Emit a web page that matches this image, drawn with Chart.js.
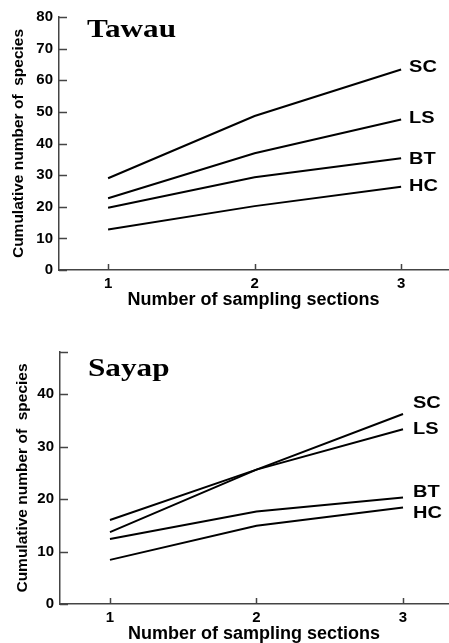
<!DOCTYPE html>
<html>
<head>
<meta charset="utf-8">
<script src="https://cdn.jsdelivr.net/npm/chart.js@4.4.1/dist/chart.umd.min.js"></script>
<style>
  html, body { margin: 0; padding: 0; background: #fff; }
  #wrap { position: relative; width: 449px; height: 643px; }
  canvas { position: absolute; left: 0; }
  #tawau { top: 0; }
  #sayap { top: 318px; }
</style>
</head>
<body>
<div id="wrap">
  <canvas id="tawau" width="449" height="312"></canvas>
  <canvas id="sayap" width="449" height="325"></canvas>
</div>
<script>
// x categories
var sections = [1, 2, 3];
var seriesNames = ['SC', 'LS', 'BT', 'HC'];

// Tawau
var tawauSC = [29.0, 48.7, 63.4];
var tawauLS = [22.7, 36.9, 47.6];
var tawauBT = [19.7, 29.3, 35.3];
var tawauHC = [12.8, 20.2, 26.3];
var tawauTicks = [0, 10, 20, 30, 40, 50, 60, 70, 80];

// Sayap
var sayapSC = [13.7, 25.6, 36.2];
var sayapLS = [16.0, 25.6, 33.3];
var sayapBT = [12.4, 17.6, 20.3];
var sayapHC = [8.4, 14.9, 18.4];
var sayapTicks = [0, 10, 20, 30, 40];

var sans = "'Liberation Sans', Arial, sans-serif";
var axisColor = '#444';

// inward tick marks, panel title and line labels
var panelPlugin = {
  id: 'panel',
  afterDraw: function (chart, args, opts) {
    var ctx = chart.ctx;
    var area = chart.chartArea;
    var x = chart.scales.x, y = chart.scales.y;
    ctx.save();
    ctx.strokeStyle = axisColor;
    ctx.lineWidth = 1.5;
    ctx.beginPath();
    y.ticks.forEach(function (t) {
      var py = Math.round(y.getPixelForValue(t.value)) + 0.5;
      ctx.moveTo(area.left, py);
      ctx.lineTo(area.left + 8, py);
    });
    ctx.moveTo(area.left, area.top + 0.5);
    ctx.lineTo(area.left + 8, area.top + 0.5);
    x.ticks.forEach(function (t) {
      var px = Math.round(x.getPixelForValue(t.value)) + 0.5;
      ctx.moveTo(px, area.bottom);
      ctx.lineTo(px, area.bottom - 6);
    });
    ctx.stroke();

    // panel title, drawn a little stretched like the scan
    ctx.fillStyle = '#000';
    ctx.textBaseline = 'alphabetic';
    ctx.font = "bold 26px 'Liberation Serif', 'Times New Roman', serif";
    ctx.save();
    ctx.translate(area.left + 28, area.top + opts.titleY);
    ctx.scale(1.2, 1);
    ctx.fillText(opts.title, 0, 0);
    ctx.restore();

    // labels at the end of each line
    ctx.font = 'bold 16px ' + sans;
    ctx.textBaseline = 'middle';
    chart.data.datasets.forEach(function (ds, i) {
      var pt = chart.getDatasetMeta(i).data[ds.data.length - 1];
      ctx.save();
      ctx.translate(pt.x + opts.dx, pt.y + opts.dy[i]);
      ctx.scale(1.25, 1);
      ctx.fillText(ds.label, 0, 0);
      ctx.restore();
    });
    ctx.restore();
  }
};

function makeChart(id, series, yMax, yTicks, xMin, xMax, pad, panel) {
  var ctx = document.getElementById(id).getContext('2d');
  return new Chart(ctx, {
    type: 'line',
    data: {
      datasets: series.map(function (vals, i) {
        return {
          label: seriesNames[i],
          data: sections.map(function (s, j) { return { x: s, y: vals[j] }; }),
          borderColor: '#000',
          borderWidth: 2,
          pointRadius: 0,
          tension: 0,
          fill: false
        };
      })
    },
    options: {
      responsive: false,
      animation: false,
      layout: { padding: { top: pad.top, right: 1, left: 0, bottom: 0 } },
      plugins: {
        legend: { display: false },
        tooltip: { enabled: false },
        panel: panel
      },
      scales: {
        x: {
          type: 'linear',
          min: xMin,
          max: xMax,
          afterBuildTicks: function (s) { s.ticks = sections.map(function (v) { return { value: v }; }); },
          afterFit: function (s) { s.height = pad.xHeight; },
          grid: { display: false, drawTicks: false },
          border: { color: axisColor, width: 1.5 },
          ticks: { color: '#000', padding: 5, font: { family: sans, size: 15, weight: 'bold' } },
          title: {
            display: true,
            text: 'Number of sampling sections',
            color: '#000',
            font: { family: sans, size: 18, weight: 'bold', lineHeight: 1 },
            padding: { top: 0, bottom: pad.xTitle }
          }
        },
        y: {
          min: 0,
          max: yMax,
          afterBuildTicks: function (s) { s.ticks = yTicks.map(function (v) { return { value: v }; }); },
          afterFit: function (s) { s.width = pad.yWidth; },
          grid: { display: false, drawTicks: false },
          border: { color: axisColor, width: 1.5 },
          ticks: { color: '#000', padding: 6, font: { family: sans, size: 15, weight: 'bold' } },
          title: {
            display: true,
            text: 'Cumulative number of  species',
            color: '#000',
            font: { family: sans, size: 15.5, weight: 'bold', lineHeight: 1.2 },
            padding: { top: pad.yTitle, bottom: 0 }
          }
        }
      }
    },
    plugins: [panelPlugin]
  });
}

makeChart('tawau', [tawauSC, tawauLS, tawauBT, tawauHC], 80, tawauTicks, 0.665, 3.32,
  { top: 17, xHeight: 42, xTitle: 3, yWidth: 59, yTitle: 9 },
  { title: 'Tawau', titleY: 20, dx: 8, dy: [-2, -1, 1, 0] });

makeChart('sayap', [sayapSC, sayapLS, sayapBT, sayapHC], 48, sayapTicks, 0.659, 3.307,
  { top: 34, xHeight: 39, xTitle: 0, yWidth: 60, yTitle: 13 },
  { title: 'Sayap', titleY: 24, dx: 10, dy: [-10, 0, -5, 6] });
</script>
</body>
</html>
